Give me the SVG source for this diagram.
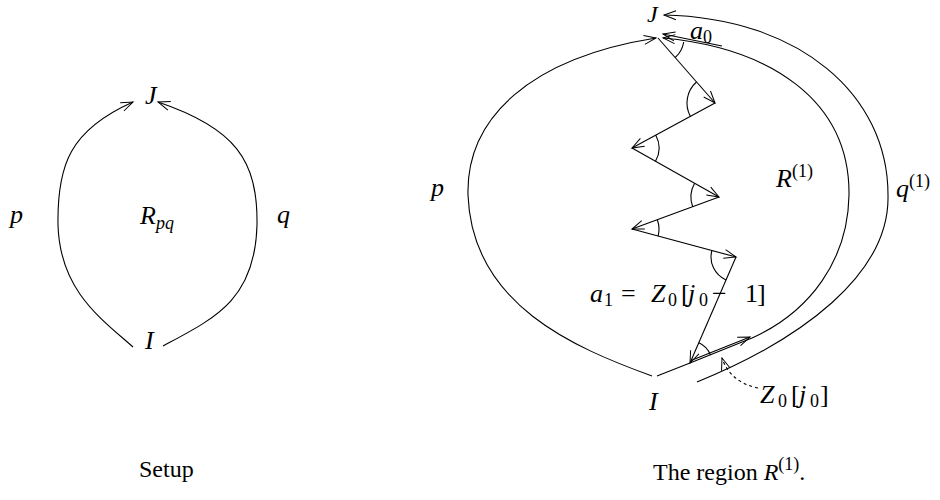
<svg xmlns="http://www.w3.org/2000/svg" width="940" height="500" viewBox="0 0 940 500">
<defs>
<marker id="ah" markerUnits="userSpaceOnUse" markerWidth="16" markerHeight="16" viewBox="-14 -8 16 16" refX="0" refY="0" orient="auto">
<path d="M -12,-4.5 L 0,0 L -12,4.5" fill="none" stroke="#000" stroke-width="1"/>
</marker>
</defs>
<style>
.c{fill:none;stroke:#000;stroke-width:1.1}
.a{marker-end:url(#ah)}
.d{stroke-dasharray:3 3}
.m{font-family:"Liberation Serif","DejaVu Serif",serif;font-style:italic;font-size:26px;fill:#000}
.r{font-family:"Liberation Serif","DejaVu Serif",serif;font-size:24px;fill:#000}
.s{font-size:18px;font-style:normal}
.si{font-size:18px}
.n{font-style:normal}
</style>
<rect width="940" height="500" fill="#fff"/>

<g id="connectors">
<!-- left -->
<path class="c a" d="M 133,347 C 100,318 60,290 58,225 C 57,165 70,130 133,102"/>
<path class="c a" d="M 163,346 C 215,318 255,300 257,225 C 258,160 235,128 158,102"/>
<!-- right: p -->
<path class="c a" d="M 652,376 C 575,348 472,305 468,195 C 466,118 530,58 656,38"/>
<!-- right: inner boundary -->
<path class="c a" d="M 657,376 L 690,363 L 752,338 C 810,312 848,260 849,195 C 850,100 770,48 663,38"/>
<!-- right: outer q(1) -->
<path class="c a" d="M 697,382 C 800,340 890,275 888,195 C 888,95 800,18 664,15"/>
<!-- a_0 double -->
<path class="c a" d="M 722,46 L 663,34"/>
<!-- Z0[j0] double -->
<path class="c a" d="M 691,360.5 L 750,337"/>
<!-- zigzag -->
<path class="c a" d="M 658,38 L 715,103"/>
<path class="c a" d="M 715,103 L 632,148"/>
<path class="c a" d="M 632,148 L 719,197"/>
<path class="c a" d="M 719,197 L 632,229"/>
<path class="c a" d="M 632,229 L 736,257"/>
<path class="c a" d="M 736,257 L 690,363"/>
<!-- angle arcs -->
<path class="c" d="M 683.7,42 A 26 26 0 0 1 675.2,57.5"/>
<path class="c" d="M 690.4,116.4 A 28 28 0 0 1 696.5,82"/>
<path class="c" d="M 655.7,135.1 A 27 27 0 0 1 655.5,161.3"/>
<path class="c" d="M 692.7,206.7 A 28 28 0 0 1 694.6,183.3"/>
<path class="c" d="M 657.3,219.7 A 27 27 0 0 1 658.1,236"/>
<path class="c" d="M 726,279.9 A 25 25 0 0 1 711.9,250.5"/>
<path class="c" d="M 698.8,342.8 A 22 22 0 0 1 710.5,355.1"/>
<!-- dashed pointer -->
<path class="c a d" d="M 758,388 Q 730,382 722,358"/>
</g>

<g id="left-labels">
<text class="m" x="145" y="104">J</text>
<text class="m" x="145" y="349">I</text>
<text class="m" x="10" y="223">p</text>
<text class="m" x="277" y="223">q</text>
<text class="m" x="140" y="224">R<tspan class="si" dy="5">pq</tspan></text>
<text class="r" x="139" y="477">Setup</text>
</g>

<g id="right-labels">
<text class="m" x="647" y="22" style="font-size:24px">J</text>
<text class="m" x="690" y="39">a<tspan class="s" dy="4">0</tspan></text>
<text class="m" x="431" y="196">p</text>
<text class="m" x="776" y="187">R<tspan class="s" dy="-10">(1)</tspan></text>
<text class="m" x="896" y="197">q<tspan class="s" dy="-10">(1)</tspan></text>
<text class="m" x="649" y="410">I</text>
<text class="m" y="302"><tspan x="590">a</tspan><tspan class="s" x="604" dy="4">1</tspan><tspan class="n" x="621" dy="-4">=</tspan><tspan x="651">Z</tspan><tspan class="s" x="668" dy="4">0</tspan><tspan class="n" x="681" dy="-4">[</tspan><tspan x="688">j</tspan><tspan class="s" x="699" dy="4">0</tspan><tspan class="n" x="712" dy="-4">−</tspan><tspan class="n" x="745">1</tspan><tspan class="n" x="757">]</tspan></text>
<text class="m" y="403"><tspan x="760">Z</tspan><tspan class="s" x="778" dy="4">0</tspan><tspan class="n" x="791" dy="-4">[</tspan><tspan x="799">j</tspan><tspan class="s" x="810" dy="4">0</tspan><tspan class="n" x="820" dy="-4">]</tspan></text>
<text class="r" x="653" y="480">The region <tspan font-style="italic">R</tspan><tspan class="s" dy="-10">(1)</tspan><tspan dy="10">.</tspan></text>
</g>
</svg>
